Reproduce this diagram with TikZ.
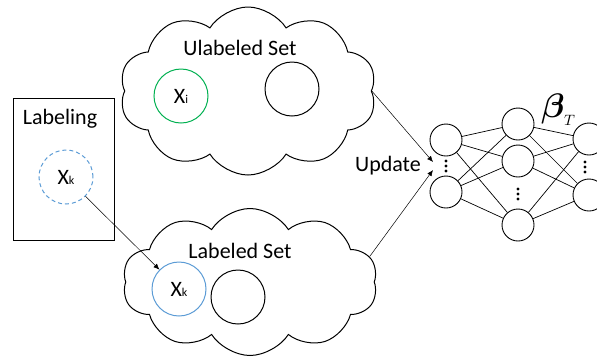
\documentclass[tikz,border=0pt]{standalone}
\usepackage{fontspec}
\setmainfont{Carlito}
\usepackage{bm}
\usetikzlibrary{shapes.symbols,arrows.meta}
\newcommand\xsub[1]{{\fontsize{22}{24}\selectfont X}{\fontsize{12}{14}\selectfont #1}}
\begin{document}
\begin{tikzpicture}[x=1pt,y=-1pt,
 cloudbox/.style={draw, shape=cloud, cloud puffs=10, cloud puff arc=115, cloud ignores aspect, inner sep=0pt, line width=1pt},
 sample/.style={draw, circle, minimum size=54pt, inner sep=0pt, line width=1pt},
 neuron/.style={draw, circle, minimum size=32pt, inner sep=0pt, line width=0.9pt},
 big/.style={font=\fontsize{22}{24}\selectfont, inner sep=0pt},
 link/.style={line width=0.5pt, -{Latex[length=6pt,width=5pt]}},
 edge/.style={line width=0.7pt}]
\useasboundingbox (0,0) rectangle (597,360);
\definecolor{mygreen}{HTML}{00B050}
\definecolor{myblue}{HTML}{5B9BD5}
% clouds
\node[cloudbox, minimum width=257pt, minimum height=168pt] (up) at (248,91) {};
\node[cloudbox, minimum width=255pt, minimum height=147pt] (low) at (250,282) {};
\node[big] (uplab) at (240,48) {Ulabeled Set};
\node[big] (lowlab) at (240,251) {Labeled Set};
% samples
\node[sample, draw=mygreen] (xi) at (181,96) {\xsub{i}};
\node[sample] (u2) at (292,89) {};
\node[sample, draw=myblue] (xk) at (179,289) {\xsub{k}};
\node[sample] (l2) at (238,297) {};
% labeling box
\node[draw, line width=1pt, minimum width=101pt, minimum height=142pt, inner sep=0pt] (box) at (63.5,169) {};
\node[big] (boxlab) at (60,119) {Labeling};
\node[sample, draw=myblue, dashed, dash pattern=on 4pt off 3pt] (xkd) at (66,177) {\xsub{k}};
\draw[link] (xkd) -- (xk);
% network
\node[neuron] (a1) at (446,140) {};
\node[neuron] (a2) at (446,192) {};
\node[neuron] (b1) at (518,124) {};
\node[neuron] (b2) at (518,161) {};
\node[neuron] (b3) at (518,225) {};
\node[neuron] (c1) at (589,139) {};
\node[neuron] (c2) at (589,195) {};
\foreach \s in {a1,a2}{\foreach \t in {b1,b2,b3}{\draw[edge] (\s) -- (\t);}}
\foreach \s in {b1,b2,b3}{\foreach \t in {c1,c2}{\draw[edge] (\s) -- (\t);}}
\foreach \y in {161,166,171}{\fill (446,\y) circle (1.7);}
\foreach \y in {189,194,199}{\fill (518,\y) circle (1.7);}
\foreach \y in {162,167,172}{\fill (585,\y) circle (1.7);}
\node[inner sep=0pt, anchor=base west] (beta) at (541,117) {\scalebox{3.4}{$\bm{\beta}$}};
\node[inner sep=0pt, anchor=base west] (sub) at (beta.base east) [yshift=-8pt, xshift=-1pt] {\scalebox{1.5}{$T$}};
% update
\node[big] (upd) at (388,166) {Update};
\coordinate (t1) at (433,162);
\coordinate (t2) at (433,170);
\draw[link] (up.east) -- (t1);
\draw[link] (low.12) -- (t2);
\end{tikzpicture}
\end{document}
